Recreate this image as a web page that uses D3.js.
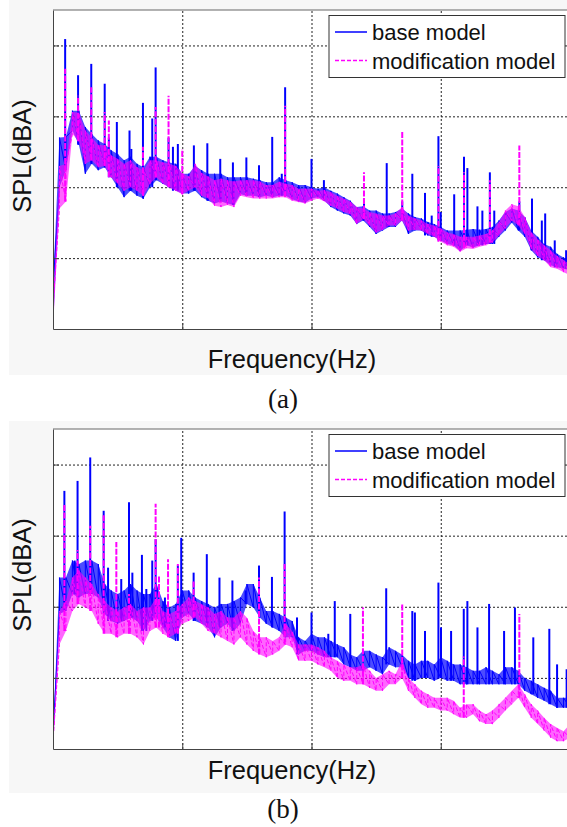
<!DOCTYPE html>
<html>
<head>
<meta charset="utf-8">
<script src="https://cdn.jsdelivr.net/npm/d3@7"></script>
<style>
  body { margin: 0; background: #fff; }
  svg { display: block; }
</style>
</head>
<body>
<svg id="chart" width="567" height="827"></svg>
<script>
// sample frequencies (Hz) for the envelope of each spectrum
const freqs = [0, 25, 50, 75, 100, 125, 150, 175, 200, 225, 250, 275, 300, 325, 350, 375, 400, 425, 450, 475,
  500, 525, 550, 575, 600, 625, 650, 675, 700, 725, 750, 775, 800, 825, 850, 875, 900, 925, 950, 975,
  1000, 1025, 1050, 1075, 1100, 1125, 1150, 1175, 1200, 1225, 1250, 1275, 1300, 1325, 1350, 1375, 1400, 1425, 1450, 1475,
  1500, 1525, 1550, 1575, 1600, 1625, 1650, 1675, 1700, 1725, 1750, 1775, 1800, 1825, 1850, 1875, 1900, 1925, 1950, 1975,
  2000]
const xGrid = [500, 1000, 1500]
const yGrid = [30, 40, 50, 60]
const seriesNames = ['base model', 'modification model']
const captions = ['(a)', '(b)']

// (a) top / bottom of the noise band, dB
const aBaseHi = [26, 47, 47.1, 50.8, 50.8, 48.5, 47.5, 46.6, 46.1, 45.2,
  44.7, 43.8, 44.3, 43.3, 42.8, 44.3, 44.3, 43.8, 43.5, 43.3,
  41.9, 41.9, 43.0, 42.4, 41.9, 41.9, 41.9, 41.4, 41.4, 41.4,
  41.4, 41.2, 41.0, 40.7, 40.7, 41.4, 41.0, 40.7, 40.3, 40.3,
  40.0, 39.8, 40.0, 39.5, 39.1, 38.6, 38.1, 37.2, 37.3, 36.7,
  36.7, 36.3, 36.3, 36.5, 37.0, 36.3, 35.8, 35.6, 35.1, 34.8,
  34.4, 33.9, 33.9, 33.9, 34.0, 34.1, 34.0, 34.1, 34.4, 35.3,
  36.5, 37.0, 36.7, 35.8, 33.9, 33.0, 32.0, 31.6, 30.6, 30.1,
  29.6]
const aBaseLo = [20, 40, 42.4, 48.0, 46.0, 41.9, 43.3, 42.4, 42.8, 41.4,
  40.0, 38.6, 39.5, 38.8, 38.4, 40.0, 41.0, 40.5, 40.0, 39.5,
  39.1, 39.1, 39.5, 38.6, 38.1, 37.7, 38.0, 37.7, 37.5, 39.0,
  38.8, 38.8, 38.6, 38.8, 38.6, 38.8, 38.8, 38.3, 38.0, 37.8,
  38.4, 38.6, 38.1, 37.2, 36.7, 36.3, 36.0, 34.8, 35.3, 34.4,
  33.4, 33.9, 34.4, 34.4, 35.3, 33.4, 33.9, 33.9, 33.2, 33.0,
  32.5, 32.0, 31.8, 31.0, 31.8, 31.5, 31.8, 32.0, 32.0, 33.0,
  33.9, 35.0, 33.9, 33.0, 31.1, 30.1, 29.7, 29.0, 28.7, 28.5,
  28.3]
const aModHi = [23, 43, 43.3, 50.6, 50.5, 48.0, 47.0, 46.0, 45.9, 44.5,
  44.0, 43.3, 43.8, 42.8, 42.4, 43.8, 43.8, 43.5, 43.3, 43.0,
  42.0, 41.5, 43.3, 42.0, 41.5, 41.0, 41.2, 41.0, 40.8, 41.0,
  41.0, 41.0, 40.8, 40.3, 40.3, 40.8, 40.5, 40.3, 39.8, 39.8,
  39.8, 39.5, 39.6, 39.3, 38.8, 38.4, 38.0, 37.2, 37.0, 36.5,
  36.3, 36.0, 36.0, 36.3, 37.2, 36.0, 35.6, 35.3, 34.8, 34.6,
  34.2, 33.6, 33.4, 33.0, 33.0, 33.0, 33.2, 33.4, 33.9, 35.1,
  36.7, 37.6, 37.3, 35.8, 33.7, 32.7, 31.8, 31.1, 30.3, 29.7,
  29.2]
const aModLo = [20, 37, 38.0, 47.5, 46.5, 43.3, 43.8, 42.8, 43.0, 41.4,
  40.5, 39.5, 40.0, 39.5, 38.8, 40.5, 41.4, 40.5, 40.0, 39.5,
  39.0, 39.5, 40.0, 38.8, 38.4, 37.4, 37.2, 37.5, 37.2, 38.8,
  38.6, 38.4, 38.4, 38.4, 38.4, 38.6, 38.6, 38.1, 37.9, 37.7,
  38.1, 38.4, 38.0, 37.4, 37.0, 36.5, 36.2, 34.8, 35.5, 34.6,
  33.6, 34.0, 34.6, 34.6, 35.3, 33.9, 34.0, 33.9, 33.4, 33.0,
  32.3, 31.8, 31.6, 30.9, 31.4, 31.3, 31.6, 31.8, 32.2, 33.2,
  34.2, 35.3, 34.6, 33.4, 31.3, 30.3, 29.7, 28.7, 28.5, 28.0,
  27.6]
// (a) tonal peaks: [Hz, dB]
const aBaseSpikes = [[47, 60.9], [97, 55.8], [148, 57.4], [200, 54.6], [216, 47], [247, 49.2], [296, 48.0], [303, 45.4],
  [348, 51.9], [384, 49.7], [397, 56.9], [447, 47], [464, 45.7], [483, 46.1], [545, 45.9], [597, 46.2], [647, 44.0],
  [696, 43.5], [748, 44.2], [797, 43.1], [848, 47.1], [885, 41.9], [898, 54.1], [1000, 44.0], [1048, 41.0], [1203, 38],
  [1291, 43.4], [1351, 38], [1390, 41.9], [1439, 39.2], [1465, 36.0], [1491, 47.2], [1500, 36.5], [1552, 39.0],
  [1590, 44.3], [1603, 42.7], [1642, 37.3], [1661, 36.7], [1690, 42.1], [1707, 36.7], [1804, 38], [1853, 38.4],
  [1891, 35.3], [1904, 36.3], [1941, 32.5], [1985, 31.1]]
const aModSpikes = [[47, 56.7], [97, 52.9], [148, 54.1], [200, 50.6], [216, 49.4], [348, 45.7], [397, 51.3], [447, 52.9],
  [500, 45.4], [898, 51.5], [1203, 42.1], [1351, 48.0], [1491, 43.0], [1590, 42.1], [1690, 41.0], [1804, 45.9]]

// (b)
const bBaseHi = [22, 44.1, 44.1, 46.5, 46.0, 46.5, 46.5, 46.0, 43.2, 42.3,
  41.8, 42.3, 43.2, 42.3, 41.8, 41.8, 43.2, 40.8, 39.9, 40.4,
  42.3, 42.3, 41.3, 40.8, 40.4, 39.9, 40.4, 40.4, 40.8, 41.3,
  43.2, 43.2, 41.3, 39.4, 39.4, 39.0, 38.5, 38.0, 35.7, 35.2,
  36.2, 35.7, 35.7, 35.2, 34.7, 34.3, 33.3, 32.9, 33.8, 33.8,
  33.3, 32.9, 34.3, 33.8, 33.3, 32.4, 31.9, 32.4, 32.4, 31.9,
  32.9, 32.4, 31.9, 31.9, 31.5, 31.0, 31.0, 31.5, 31.0, 30.5,
  31.5, 31.5, 31.0, 30.0, 29.6, 29.1, 28.6, 28.2, 27.2, 27.2,
  27.2]
const bBaseLo = [20, 39.0, 39.4, 41.8, 41.3, 41.8, 41.8, 41.3, 39.0, 38.0,
  37.6, 38.0, 38.5, 38.0, 36.6, 38.0, 38.5, 37.1, 35.7, 35.2,
  38.5, 39.0, 38.0, 37.6, 37.1, 35.7, 37.1, 37.6, 36.6, 37.6,
  40.4, 39.9, 38.5, 37.6, 37.1, 36.6, 35.7, 35.7, 33.3, 33.8,
  33.8, 33.3, 32.9, 32.9, 32.9, 31.9, 31.5, 31.0, 31.0, 31.5,
  31.0, 30.5, 31.9, 31.5, 31.5, 30.0, 29.6, 30.0, 30.0, 29.6,
  30.0, 29.6, 29.6, 29.1, 29.1, 29.1, 29.1, 29.1, 29.1, 29.1,
  29.1, 29.1, 29.1, 28.2, 27.7, 27.2, 26.8, 26.3, 25.8, 25.8,
  25.8]
const bModHi = [21, 39.4, 40.8, 44.1, 45.1, 44.1, 43.2, 41.8, 40.8, 39.9,
  39.4, 39.9, 40.4, 39.4, 39.9, 39.9, 41.3, 39.4, 39.0, 39.4,
  40.4, 41.3, 40.8, 40.4, 39.9, 39.0, 39.4, 38.5, 38.5, 39.4,
  38.5, 36.6, 35.7, 35.7, 35.2, 35.7, 37.6, 36.6, 34.7, 34.7,
  34.7, 34.3, 33.8, 32.9, 32.4, 31.9, 31.5, 31.5, 31.9, 31.0,
  30.0, 30.5, 31.0, 30.5, 32.4, 30.0, 29.1, 28.2, 27.7, 27.2,
  27.2, 27.2, 26.8, 25.8, 26.3, 26.3, 25.4, 24.9, 25.4, 26.3,
  27.2, 28.2, 29.1, 27.7, 26.3, 25.4, 24.4, 23.5, 23.0, 22.5,
  23.5]
const bModLo = [20, 34.7, 36.6, 39.4, 40.4, 39.9, 39.4, 37.6, 36.2, 36.2,
  35.7, 36.2, 36.2, 35.7, 34.7, 36.6, 37.1, 36.2, 35.7, 36.2,
  37.6, 38.0, 38.5, 37.6, 36.6, 36.2, 35.7, 35.2, 34.7, 35.7,
  34.7, 33.8, 33.3, 32.9, 33.3, 33.8, 34.7, 34.3, 32.4, 32.4,
  32.4, 31.9, 31.5, 31.0, 30.0, 29.6, 29.6, 29.1, 29.1, 28.6,
  28.2, 28.2, 29.1, 29.1, 30.0, 28.2, 27.2, 26.3, 25.8, 25.8,
  25.4, 25.4, 24.9, 24.4, 24.4, 24.9, 23.9, 23.5, 23.5, 24.4,
  25.4, 26.3, 27.2, 25.8, 24.4, 23.5, 22.6, 21.6, 21.1, 21.1,
  21.6]
const bBaseSpikes = [[44, 56.3], [84, 46.5], [95, 57.7], [144, 61.0], [196, 53.5], [213, 45.5], [264, 43.9], [294, 54.7],
  [307, 44.8], [344, 47.3], [361, 42.5], [384, 46.5], [397, 49.5], [433, 41.3], [483, 45.8], [496, 49.7], [544, 44.8],
  [595, 47.4], [644, 44.1], [694, 43.7], [745, 42.3], [797, 45.8], [847, 44.2], [896, 53.4], [944, 38.5], [1000, 39.2],
  [1065, 36.2], [1090, 40.8], [1150, 39.0], [1289, 42.6], [1390, 39.4], [1400, 39.2], [1439, 36.6], [1491, 43.4],
  [1501, 37.1], [1540, 36.6], [1589, 39.7], [1603, 40.8], [1642, 37.1], [1687, 40.4], [1745, 36.6], [1787, 39.9],
  [1858, 35.7], [1920, 36.9], [1950, 31.9], [1987, 31.2]]
const bModSpikes = [[44, 54.5], [95, 48], [144, 51.4], [196, 53.0], [245, 49.1], [294, 41.8], [397, 54.5], [410, 44.4],
  [445, 46.7], [483, 46.0], [544, 43.7], [797, 44.1], [896, 46.0], [1199, 39.9], [1351, 40.4], [1589, 33], [1804, 39.0]]

const blue = '#0000ff'
const magenta = '#ff00ff'
const sans = '"Liberation Sans", Arial, sans-serif'

const svg = d3.select('#chart')
const left = 53
const right = 570

const x = d3.scaleLinear()
  .domain([0, 2000])
  .range([left, right])

const panels = [
  { top: 10, bottom: 329, bg: [0, 375], xlab: 368, cap: 408, base: [aBaseLo, aBaseHi, aBaseSpikes], mod: [aModLo, aModHi, aModSpikes] },
  { top: 429, bottom: 749, bg: [421, 793], xlab: 779, cap: 818, base: [bBaseLo, bBaseHi, bBaseSpikes], mod: [bModLo, bModHi, bModSpikes] }
]

// light figure background, like the matlab window
panels.forEach(p => {
  svg.append('rect')
    .attr('x', 9).attr('y', p.bg[0])
    .attr('width', 567).attr('height', p.bg[1] - p.bg[0])
    .attr('fill', '#f7f7f7')
})

panels.forEach((p, pi) => {
  const y = d3.scaleLinear()
    .domain([20, 65])
    .range([p.bottom, p.top])

  const g = svg.append('g')

  g.append('rect')
    .attr('x', left).attr('y', p.top)
    .attr('width', right - left).attr('height', p.bottom - p.top)
    .attr('fill', '#fff')

  // dotted grid
  g.append('g')
    .attr('transform', `translate(0,${p.bottom})`)
    .call(d3.axisBottom(x).tickValues(xGrid).tickSize(-(p.bottom - p.top)).tickFormat(''))
    .call(a => a.select('.domain').remove())
    .selectAll('line')
    .attr('stroke', '#222')
    .attr('stroke-dasharray', '2,2')
  g.append('g')
    .attr('transform', `translate(${left},0)`)
    .call(d3.axisLeft(y).tickValues(yGrid).tickSize(-(right - left)).tickFormat(''))
    .call(a => a.select('.domain').remove())
    .selectAll('line')
    .attr('stroke', '#222')
    .attr('stroke-dasharray', '2,2')

  const clipId = 'clip' + pi
  svg.append('clipPath').attr('id', clipId)
    .append('rect')
    .attr('x', left).attr('y', p.top)
    .attr('width', right - left).attr('height', p.bottom - p.top)

  const plot = g.append('g').attr('clip-path', `url(#${clipId})`)

  const drawSeries = ([lo, hi, spikes], color, dash, op) => {
    // dense noise band, then a zigzag between its bottom and top
    const band = freqs.map((f, i) => ({ f, lo: lo[i], hi: hi[i] }))
    plot.append('path')
      .datum(band)
      .attr('fill', color)
      .attr('fill-opacity', op)
      .attr('d', d3.area().x(d => x(d.f)).y0(d => y(d.lo)).y1(d => y(d.hi)))

    const pts = []
    band.forEach(d => {
      pts.push([d.f, d.lo])
      pts.push([d.f, d.hi])
    })
    plot.append('path')
      .datum(pts)
      .attr('fill', 'none')
      .attr('stroke', color)
      .attr('stroke-width', 1)
      .attr('stroke-dasharray', dash)
      .attr('d', d3.line().x(d => x(d[0])).y(d => y(d[1])))

    plot.selectAll(null)
      .data(spikes)
      .enter().append('line')
      .attr('x1', d => x(d[0]))
      .attr('x2', d => x(d[0]))
      .attr('y1', d => y(lo[Math.round(d[0] / 25)]))
      .attr('y2', d => y(d[1]))
      .attr('stroke', color)
      .attr('stroke-width', 2)
      .attr('stroke-dasharray', dash ? '6,1.5' : null)
  }

  drawSeries(p.base, blue, null, 0.7)
  drawSeries(p.mod, magenta, '4,2', 0.6)

  // axes box with inward ticks
  g.append('g')
    .attr('transform', `translate(0,${p.bottom})`)
    .call(d3.axisTop(x).tickValues(xGrid).tickSize(6).tickSizeOuter(0).tickFormat(''))
    .call(a => a.select('.domain').attr('stroke', '#444'))
    .selectAll('line').attr('stroke', '#444')
  g.append('g')
    .attr('transform', `translate(${left},0)`)
    .call(d3.axisRight(y).tickValues(yGrid).tickSize(6).tickSizeOuter(0).tickFormat(''))
    .call(a => a.select('.domain').attr('stroke', '#444'))
    .selectAll('line').attr('stroke', '#444')
  g.append('line')
    .attr('x1', left).attr('x2', right)
    .attr('y1', p.top).attr('y2', p.top)
    .attr('stroke', '#666')

  // legend
  const lg = g.append('g').attr('transform', `translate(329,${p.top + 5.5})`)
  lg.append('rect')
    .attr('width', 236).attr('height', 62)
    .attr('fill', '#fff')
    .attr('stroke', '#333')
  seriesNames.forEach((name, i) => {
    const ly = 16.5 + i * 28.5
    lg.append('line')
      .attr('x1', 6).attr('x2', 38)
      .attr('y1', ly).attr('y2', ly)
      .attr('stroke', i ? magenta : blue)
      .attr('stroke-width', 1.5)
      .attr('stroke-dasharray', i ? '4,2' : null)
    lg.append('text')
      .attr('x', 43).attr('y', ly + 8)
      .attr('font-family', sans)
      .attr('font-size', 22)
      .attr('fill', '#111')
      .text(name)
  })

  // labels
  g.append('text')
    .attr('transform', `translate(31,${p.top + 146}) rotate(-90)`)
    .attr('text-anchor', 'middle')
    .attr('font-family', sans)
    .attr('font-size', 25.5)
    .attr('fill', '#111')
    .text('SPL(dBA)')
  g.append('text')
    .attr('x', 292).attr('y', p.xlab)
    .attr('text-anchor', 'middle')
    .attr('font-family', sans)
    .attr('font-size', 25.5)
    .attr('fill', '#111')
    .text('Frequency(Hz)')
  g.append('text')
    .attr('x', 283).attr('y', p.cap)
    .attr('text-anchor', 'middle')
    .attr('font-family', '"Liberation Serif", "Times New Roman", serif')
    .attr('font-size', 27)
    .attr('fill', '#111')
    .text(captions[pi])
})
</script>
</body>
</html>
